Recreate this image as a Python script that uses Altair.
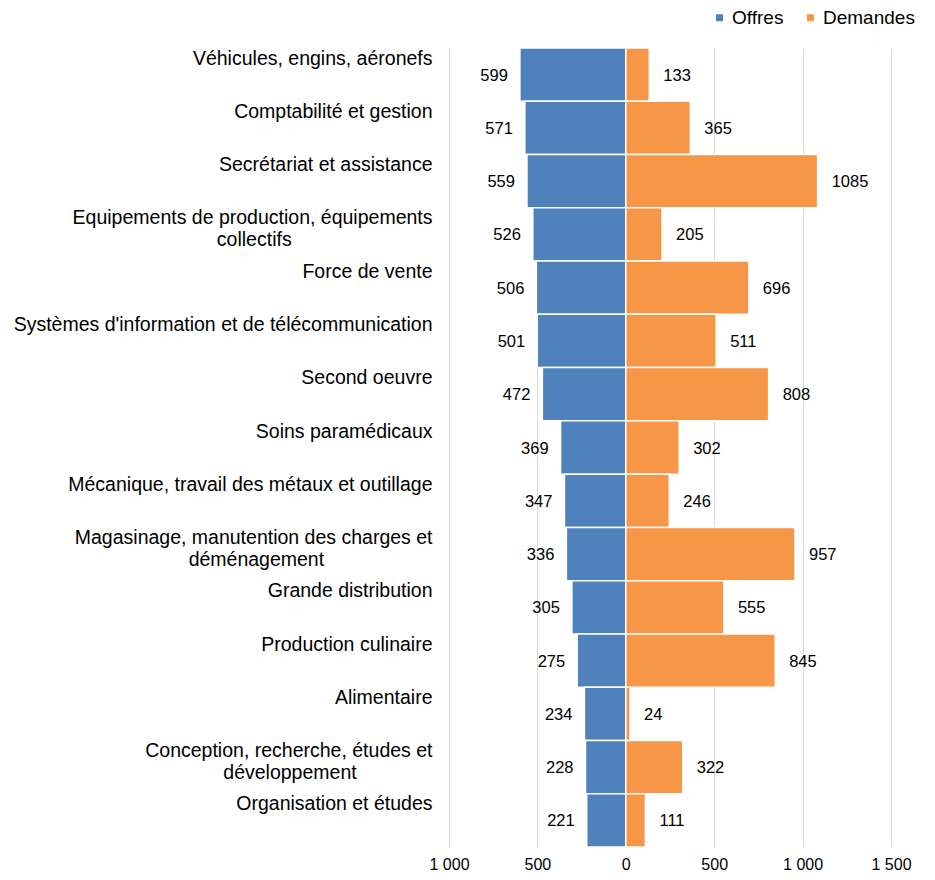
import altair as alt
import pandas as pd

categories = [
    "Véhicules, engins, aéronefs",
    "Comptabilité et gestion",
    "Secrétariat et assistance",
    "Equipements de production, équipements collectifs",
    "Force de vente",
    "Systèmes d'information et de télécommunication",
    "Second oeuvre",
    "Soins paramédicaux",
    "Mécanique, travail des métaux et outillage",
    "Magasinage, manutention des charges et déménagement",
    "Grande distribution",
    "Production culinaire",
    "Alimentaire",
    "Conception, recherche, études et développement",
    "Organisation et études",
]
offres = [599, 571, 559, 526, 506, 501, 472, 369, 347, 336, 305, 275, 234, 228, 221]
demandes = [133, 365, 1085, 205, 696, 511, 808, 302, 246, 957, 555, 845, 24, 322, 111]
series_names = ["Offres", "Demandes"]
tick_values = [-1000, -500, 0, 500, 1000, 1500]

# Two-line labels: (first line, second line, non-breaking padding to centre line 2)
line_breaks = {
    "Equipements de production, équipements collectifs": ("Equipements de production, équipements", "collectifs", 26),
    "Magasinage, manutention des charges et déménagement": ("Magasinage, manutention des charges et", "déménagement", 20),
    "Conception, recherche, études et développement": ("Conception, recherche, études et", "développement", 14),
}


def display(cat):
    if cat in line_breaks:
        a, b, pad = line_breaks[cat]
        return a + "|" + b + "\u00a0" * pad + "\u200b"
    return cat


labels = [display(c) for c in categories]

rows = []
for lab, o, d in zip(labels, offres, demandes):
    rows.append({"cat": lab, "series": "Offres", "value": -o, "label": o})
    rows.append({"cat": lab, "series": "Demandes", "value": d, "label": d})
df = pd.DataFrame(rows)

FONT = "Liberation Sans"

y_enc = alt.Y(
    "cat:N",
    sort=labels,
    title=None,
    scale=alt.Scale(paddingInner=0, paddingOuter=0),
    axis=alt.Axis(
        labelExpr="split(datum.label, '|')",
        labelAlign="right",
        labelBaseline="top",
        labelOffset=-25,
        labelPadding=17,
        labelFontSize=19.5,
        labelLineHeight=22,
        labelFont=FONT,
        labelColor="#000000",
        labelLimit=600,
        labelOverlap=False,
        ticks=False,
        domain=False,
        grid=False,
    ),
)

x_enc = alt.X(
    "value:Q",
    title=None,
    scale=alt.Scale(domain=[-1000, 1500], nice=False, zero=False),
    axis=alt.Axis(
        values=tick_values,
        labelExpr="replace(format(abs(datum.value), ',d'), ',', ' ')",
        labelFontSize=16,
        labelFont=FONT,
        labelColor="#000000",
        labelPadding=9,
        labelFlush=False,
        ticks=False,
        domain=False,
        grid=True,
        gridColor="#d9d9d9",
        gridWidth=1,
    ),
)

bars = alt.Chart(df).mark_bar(stroke="white", strokeWidth=1.5).encode(
    x=x_enc,
    y=y_enc,
    color=alt.Color(
        "series:N",
        scale=alt.Scale(domain=series_names, range=["#4F81BD", "#F79646"]),
        sort=series_names,
        legend=alt.Legend(
            title=None,
            orient="none",
            legendX=261,
            legendY=-40,
            direction="horizontal",
            symbolType="square",
            symbolSize=49,
            symbolStrokeWidth=0,
            labelFontSize=19,
            labelFont=FONT,
            labelColor="#000000",
            labelOffset=3,
            labelLimit=300,
            columnPadding=17,
            padding=0,
        ),
    ),
)

text_off = alt.Chart(df).transform_filter(alt.datum.series == "Offres").mark_text(
    align="right", baseline="middle", dx=-12, dy=1, fontSize=16.5, font=FONT, color="#000000"
).encode(x="value:Q", y=alt.Y("cat:N", sort=labels), text="label:Q")

text_dem = alt.Chart(df).transform_filter(alt.datum.series == "Demandes").mark_text(
    align="left", baseline="middle", dx=14, dy=1, fontSize=16.5, font=FONT, color="#000000"
).encode(x="value:Q", y=alt.Y("cat:N", sort=labels), text="label:Q")

chart = (
    alt.layer(bars, text_off, text_dem)
    .properties(
        width=442,
        height=799,
        autosize=alt.AutoSizeParams(type="none"),
        padding={"left": 441, "top": 40, "right": 34, "bottom": 30},
    )
    .configure_view(stroke=None)
)

chart.save("out.html", embed_options={"renderer": "svg", "actions": False})
